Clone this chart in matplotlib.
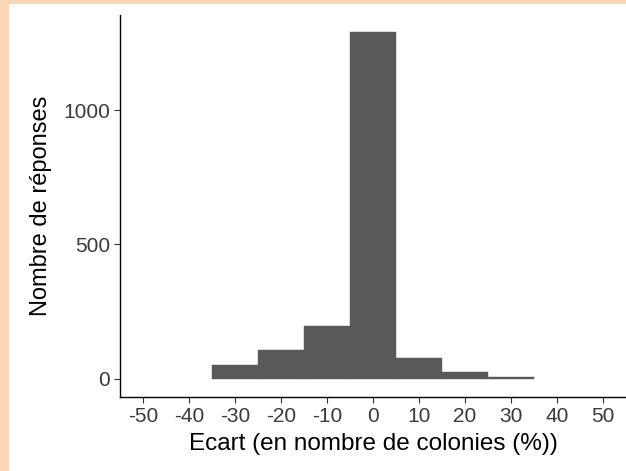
import matplotlib.pyplot as plt
from matplotlib.patches import Rectangle

plt.rcParams['font.family'] = ['Liberation Sans', 'DejaVu Sans']
plt.rcParams['axes.unicode_minus'] = False

# histogramme des écarts (classes de 10 points)
centres = [-30, -20, -10, 0, 10, 20, 30]
effectifs = [52, 106, 194, 1292, 78, 25, 4]
xticks = [-50, -40, -30, -20, -10, 0, 10, 20, 30, 40, 50]
yticks = [0, 500, 1000]

W, H = 626, 471
fig = plt.figure(figsize=(W / 100, H / 100), dpi=100)
fig.patch.set_facecolor('white')

# bordure pêche en haut et à gauche
fig.patches.append(Rectangle((0, 0), 9 / W, 1, transform=fig.transFigure,
                             facecolor='#FCD5B4', edgecolor='none', zorder=0))
fig.patches.append(Rectangle((0, 1 - 4 / H), 1, 4 / H, transform=fig.transFigure,
                             facecolor='#FCD5B4', edgecolor='none', zorder=0))

ax = fig.add_axes([120 / W, 1 - 397 / H, (626 - 120) / W, (397 - 15) / H])
ax.bar(centres, effectifs, width=10, color='#595959', edgecolor='#595959',
       linewidth=0.3)

ax.set_xlim(-55, 55)
ax.set_ylim(-69, 1356)
ax.set_xticks(xticks)
ax.set_yticks(yticks)
ax.spines['top'].set_visible(False)
ax.spines['right'].set_visible(False)
for s in ['left', 'bottom']:
    ax.spines[s].set_linewidth(1.0)
ax.tick_params(axis='both', length=4, width=0.8, color='#333333',
               labelsize=15, labelcolor='#3a3a3a', pad=3)

ax.set_xlabel('Ecart (en nombre de colonies (%))', fontsize=17.5, labelpad=5)
ax.set_ylabel('Nombre de réponses', fontsize=17, labelpad=8)

fig.savefig('out.png', dpi=100)
